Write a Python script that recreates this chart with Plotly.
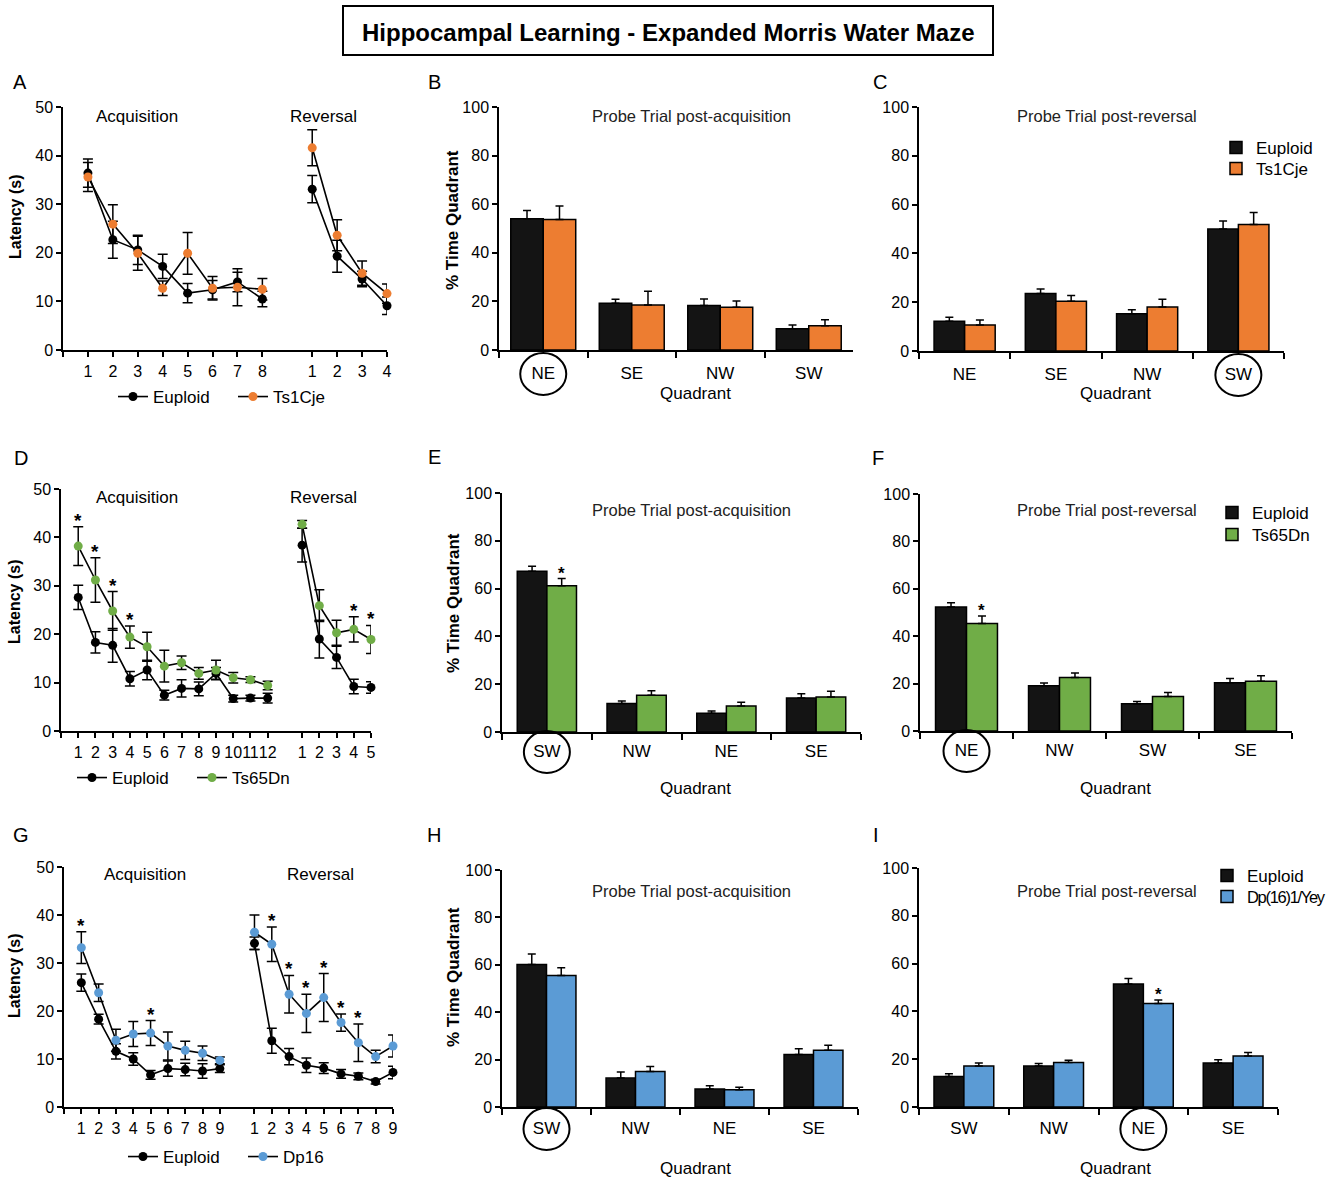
import plotly.graph_objects as go

W, H = 1335, 1180
FONT = "Arial, 'Liberation Sans', Helvetica, sans-serif"

EUP_BAR = "#141414"
ORANGE = "#ED7D31"
GREEN = "#70AD47"
BLUE = "#5B9BD5"

# ---------------- Ts1Cje (A-C) ----------------
ts1_acq_days = ["1", "2", "3", "4", "5", "6", "7", "8"]
ts1_rev_days = ["1", "2", "3", "4"]
ts1_eup_acq = [36.4, 22.7, 20.6, 17.2, 11.7, 12.4, 14.0, 10.5]
ts1_eup_acq_sem = [2.9, 3.8, 3.0, 2.5, 2.0, 1.9, 2.0, 1.6]
ts1_mut_acq = [35.6, 25.9, 19.9, 12.7, 19.9, 12.7, 12.9, 12.5]
ts1_mut_acq_sem = [3.0, 4.0, 3.5, 1.5, 4.3, 2.4, 3.8, 2.2]
ts1_eup_rev = [33.1, 19.3, 14.6, 9.1]
ts1_eup_rev_sem = [2.8, 3.3, 1.6, 1.8]
ts1_mut_rev = [41.6, 23.6, 15.8, 11.6]
ts1_mut_rev_sem = [3.7, 3.2, 2.5, 2.0]

ts1_probe_acq_quads = ["NE", "SE", "NW", "SW"]
ts1_probe_acq_eup = [54.0, 19.2, 18.3, 8.7]
ts1_probe_acq_eup_sem = [3.4, 1.7, 2.7, 1.6]
ts1_probe_acq_mut = [53.7, 18.5, 17.6, 10.0]
ts1_probe_acq_mut_sem = [5.6, 5.7, 2.6, 2.5]

ts1_probe_rev_quads = ["NE", "SE", "NW", "SW"]
ts1_probe_rev_eup = [12.2, 23.6, 15.3, 50.0]
ts1_probe_rev_eup_sem = [1.6, 1.8, 1.6, 3.3]
ts1_probe_rev_mut = [10.7, 20.4, 18.0, 51.8]
ts1_probe_rev_mut_sem = [2.0, 2.3, 3.2, 5.0]

# ---------------- Ts65Dn (D-F) ----------------
ts65_acq_days = ["1", "2", "3", "4", "5", "6", "7", "8", "9", "10", "11", "12"]
ts65_rev_days = ["1", "2", "3", "4", "5"]
ts65_eup_acq = [27.6, 18.3, 17.7, 10.8, 12.6, 7.4, 8.8, 8.7, 11.9, 6.7, 6.8, 6.8]
ts65_eup_acq_sem = [2.5, 2.2, 3.5, 1.5, 2.0, 1.0, 1.8, 1.4, 1.2, 0.7, 0.6, 1.0]
ts65_mut_acq = [38.2, 31.2, 24.8, 19.4, 17.4, 13.4, 14.1, 11.9, 12.6, 11.0, 10.6, 9.4]
ts65_mut_acq_sem = [4.0, 4.6, 4.0, 2.3, 3.0, 3.3, 1.4, 1.2, 2.0, 1.1, 0.6, 0.9]
ts65_eup_rev = [38.4, 19.0, 15.2, 9.2, 9.0]
ts65_eup_rev_sem = [3.5, 3.9, 2.3, 1.5, 1.2]
ts65_mut_rev = [42.7, 25.9, 20.3, 21.0, 18.9]
ts65_mut_rev_sem = [0.8, 3.3, 2.6, 2.6, 2.9]
ts65_sig_acq = [1, 2, 3, 4]
ts65_sig_rev = [4, 5]

ts65_probe_acq_quads = ["SW", "NW", "NE", "SE"]
ts65_probe_acq_eup = [67.3, 11.9, 7.8, 14.2]
ts65_probe_acq_eup_sem = [2.0, 1.1, 1.0, 1.8]
ts65_probe_acq_mut = [61.2, 15.4, 10.9, 14.6]
ts65_probe_acq_mut_sem = [3.0, 1.9, 1.5, 2.4]

ts65_probe_rev_quads = ["NE", "NW", "SW", "SE"]
ts65_probe_rev_eup = [52.3, 19.1, 11.5, 20.4]
ts65_probe_rev_eup_sem = [1.8, 1.2, 0.9, 1.8]
ts65_probe_rev_mut = [45.4, 22.6, 14.6, 21.0]
ts65_probe_rev_mut_sem = [3.1, 1.9, 1.6, 2.3]

# ---------------- Dp(16)1/Yey (G-I) ----------------
dp_acq_days = ["1", "2", "3", "4", "5", "6", "7", "8", "9"]
dp_rev_days = ["1", "2", "3", "4", "5", "6", "7", "8", "9"]
dp_eup_acq = [25.9, 18.3, 11.6, 10.0, 6.7, 8.0, 7.8, 7.5, 8.0]
dp_eup_acq_sem = [1.8, 1.0, 1.6, 1.3, 0.9, 1.6, 1.3, 1.5, 0.8]
dp_mut_acq = [33.2, 23.8, 13.9, 15.2, 15.4, 12.7, 11.8, 11.2, 9.7]
dp_mut_acq_sem = [3.3, 1.8, 2.3, 2.6, 2.6, 2.9, 1.9, 1.5, 0.7]
dp_eup_rev = [34.1, 13.8, 10.5, 8.7, 8.1, 6.9, 6.4, 5.3, 7.2]
dp_eup_rev_sem = [1.3, 2.6, 1.7, 1.5, 1.1, 0.9, 0.7, 0.5, 1.3]
dp_mut_rev = [36.4, 33.9, 23.5, 19.5, 22.8, 17.6, 13.4, 10.5, 12.7]
dp_mut_rev_sem = [3.6, 3.6, 3.9, 4.0, 5.0, 1.8, 3.9, 1.3, 2.3]
dp_sig_acq = [1, 5]
dp_sig_rev = [2, 3, 4, 5, 6, 7]

dp_probe_acq_quads = ["SW", "NW", "NE", "SE"]
dp_probe_acq_eup = [60.1, 12.2, 7.6, 22.1]
dp_probe_acq_eup_sem = [4.5, 2.6, 1.4, 2.5]
dp_probe_acq_mut = [55.5, 15.0, 7.3, 23.9]
dp_probe_acq_mut_sem = [3.3, 2.1, 1.0, 2.2]

dp_probe_rev_quads = ["SW", "NW", "NE", "SE"]
dp_probe_rev_eup = [12.8, 17.2, 51.5, 18.4]
dp_probe_rev_eup_sem = [1.1, 1.0, 2.3, 1.4]
dp_probe_rev_mut = [17.2, 18.6, 43.3, 21.3]
dp_probe_rev_mut_sem = [1.2, 1.0, 1.5, 1.5]


def fx(px):
    return px / W


def fy(py):
    return 1 - py / H


def axn(prefix, n):
    return prefix + ("" if n == 1 else str(n))


# subplot boxes in page pixels: left, right, top, bottom
BOXES = {
    1: (63, 387, 107, 350), 2: (499, 853, 107, 350), 3: (919, 1284, 107, 351),
    4: (61, 371, 489, 731), 5: (502, 861, 493, 732), 6: (920, 1292, 494, 731),
    7: (64, 393, 867, 1107), 8: (502, 858, 870, 1107), 9: (919, 1278, 868, 1107),
}

fig = go.Figure()
annotations = []
shapes = []

AXIS_COMMON = dict(showline=True, linecolor="black", linewidth=1.5, ticks="outside",
                   ticklen=5, tickwidth=1.5, tickcolor="black", showgrid=False,
                   zeroline=False, fixedrange=True, automargin=False)


def text(x, y, s, size=16, color="black", **kw):
    annotations.append(dict(x=fx(x), y=fy(y), xref="paper", yref="paper", text=s,
                            showarrow=False, xanchor=kw.pop("xanchor", "center"),
                            yanchor=kw.pop("yanchor", "middle"),
                            font=dict(size=size, color=color, family=FONT), **kw))


def setup_axes(n, x_extra, y_extra):
    l, r, t, b = BOXES[n]
    fig.layout[axn("xaxis", n)] = {**AXIS_COMMON, "domain": [fx(l), fx(r)],
                                   "anchor": axn("y", n), **x_extra}
    fig.layout[axn("yaxis", n)] = {**AXIS_COMMON, "domain": [fy(b), fy(t)],
                                   "anchor": axn("x", n), **y_extra}


def star(xa, ya, x, y, size):
    annotations.append(dict(x=x, y=y, xref=xa, yref=ya, text="<b>*</b>", showarrow=False,
                            yanchor="bottom", yshift=-6,
                            font=dict(size=size, color="black", family=FONT)))


def latency_panel(n, acq_days, rev_days, eup_acq, eup_acq_sem, eup_rev, eup_rev_sem,
                  mut_acq, mut_acq_sem, mut_rev, mut_rev_sem, mut_name, mut_color,
                  legend_id, sig_acq=(), sig_rev=()):
    xa, ya = axn("x", n), axn("y", n)
    acq_x = list(range(1, len(acq_days) + 1))
    rev_x = list(range(len(acq_days) + 2, len(acq_days) + 2 + len(rev_days)))
    series = [
        ("Euploid", "black", [(acq_x, eup_acq, eup_acq_sem), (rev_x, eup_rev, eup_rev_sem)]),
        (mut_name, mut_color, [(acq_x, mut_acq, mut_acq_sem), (rev_x, mut_rev, mut_rev_sem)]),
    ]
    for name, color, segments in series:
        for k, (xs, ys, es) in enumerate(segments):
            fig.add_trace(go.Scatter(
                x=xs, y=ys, mode="lines+markers", name=name,
                line=dict(color="black", width=1.6),
                marker=dict(color=color, size=9),
                error_y=dict(type="data", array=es, visible=True, color="black",
                             thickness=1.5, width=5),
                legend=legend_id, legendgroup=f"{n}-{name}", showlegend=(k == 0),
                cliponaxis=False, xaxis=xa, yaxis=ya, hoverinfo="skip"))
    # significance marks above the transgenic line
    for day in sig_acq:
        star(xa, ya, acq_x[day - 1], mut_acq[day - 1] + mut_acq_sem[day - 1], 19)
    for day in sig_rev:
        star(xa, ya, rev_x[day - 1], mut_rev[day - 1] + mut_rev_sem[day - 1], 19)
    setup_axes(n,
               dict(range=[0, rev_x[-1]], tickmode="array", tickangle=0,
                    tickvals=[0] + acq_x + rev_x, ticktext=[""] + acq_days + rev_days,
                    tickfont=dict(size=16, family=FONT, color="black"),
                    ticklabelstandoff=1),
               dict(range=[0, 50], tickmode="array", tickvals=[0, 10, 20, 30, 40, 50],
                    tickfont=dict(size=16, family=FONT, color="black")))


def probe_panel(n, quads, eup, eup_sem, mut, mut_sem, mut_name, mut_color, target,
                bar_w, label_gap, legend_ids=None, sig=()):
    xa, ya = axn("x", n), axn("y", n)
    ids = legend_ids or ("legend", "legend")
    for name, color, vals, errs, off, lid in [
            ("Euploid", EUP_BAR, eup, eup_sem, -bar_w, ids[0]),
            (mut_name, mut_color, mut, mut_sem, 0, ids[1])]:
        fig.add_trace(go.Bar(
            x=quads, y=vals, width=bar_w, offset=off, name=name,
            marker=dict(color=color, line=dict(color="black", width=1.5)),
            error_y=dict(type="data", symmetric=False, array=errs,
                         arrayminus=[0] * len(errs), color="black", thickness=1.5, width=4),
            legend=lid, showlegend=legend_ids is not None,
            xaxis=xa, yaxis=ya, hoverinfo="skip"))
    for q in sig:
        i = quads.index(q)
        star(xa, ya, i + bar_w / 2, mut[i] + mut_sem[i], 17)
    # circle round the target quadrant label
    ti = quads.index(target)
    shapes.append(dict(type="circle", xref=f"{xa} domain", yref=f"{ya} domain",
                       xsizemode="pixel", ysizemode="pixel",
                       xanchor=(ti + 0.5) / len(quads), yanchor=0,
                       x0=-23, x1=23, y0=-(label_gap + 21), y1=-(label_gap - 21),
                       line=dict(color="black", width=2)))
    setup_axes(n,
               dict(type="category", range=[-0.5, len(quads) - 0.5], tickson="boundaries",
                    ticklen=6, tickangle=0, tickfont=dict(size=17, family=FONT, color="black"),
                    ticklabelstandoff=label_gap - 17),
               dict(range=[0, 100], tickmode="array", tickvals=[0, 20, 40, 60, 80, 100],
                    tickfont=dict(size=16, family=FONT, color="black")))


# ---- row 1: Ts1Cje ----
latency_panel(1, ts1_acq_days, ts1_rev_days, ts1_eup_acq, ts1_eup_acq_sem, ts1_eup_rev,
              ts1_eup_rev_sem, ts1_mut_acq, ts1_mut_acq_sem, ts1_mut_rev, ts1_mut_rev_sem,
              "Ts1Cje", ORANGE, "legend")
probe_panel(2, ts1_probe_acq_quads, ts1_probe_acq_eup, ts1_probe_acq_eup_sem,
            ts1_probe_acq_mut, ts1_probe_acq_mut_sem, "Ts1Cje", ORANGE, "NE", 0.367, 24)
probe_panel(3, ts1_probe_rev_quads, ts1_probe_rev_eup, ts1_probe_rev_eup_sem,
            ts1_probe_rev_mut, ts1_probe_rev_mut_sem, "Ts1Cje", ORANGE, "SW", 0.335, 24,
            legend_ids=("legend4", "legend5"))

# ---- row 2: Ts65Dn ----
latency_panel(4, ts65_acq_days, ts65_rev_days, ts65_eup_acq, ts65_eup_acq_sem, ts65_eup_rev,
              ts65_eup_rev_sem, ts65_mut_acq, ts65_mut_acq_sem, ts65_mut_rev, ts65_mut_rev_sem,
              "Ts65Dn", GREEN, "legend2", ts65_sig_acq, ts65_sig_rev)
probe_panel(5, ts65_probe_acq_quads, ts65_probe_acq_eup, ts65_probe_acq_eup_sem,
            ts65_probe_acq_mut, ts65_probe_acq_mut_sem, "Ts65Dn", GREEN, "SW", 0.33, 20,
            sig=["SW"])
probe_panel(6, ts65_probe_rev_quads, ts65_probe_rev_eup, ts65_probe_rev_eup_sem,
            ts65_probe_rev_mut, ts65_probe_rev_mut_sem, "Ts65Dn", GREEN, "NE", 0.333, 20,
            legend_ids=("legend6", "legend7"), sig=["NE"])

# ---- row 3: Dp(16)1/Yey ----
latency_panel(7, dp_acq_days, dp_rev_days, dp_eup_acq, dp_eup_acq_sem, dp_eup_rev,
              dp_eup_rev_sem, dp_mut_acq, dp_mut_acq_sem, dp_mut_rev, dp_mut_rev_sem,
              "Dp16", BLUE, "legend3", dp_sig_acq, dp_sig_rev)
probe_panel(8, dp_probe_acq_quads, dp_probe_acq_eup, dp_probe_acq_eup_sem,
            dp_probe_acq_mut, dp_probe_acq_mut_sem, "Dp(16)1/Yey", BLUE, "SW", 0.331, 22)
probe_panel(9, dp_probe_rev_quads, dp_probe_rev_eup, dp_probe_rev_eup_sem,
            dp_probe_rev_mut, dp_probe_rev_mut_sem,
            '<span style="font-size:16.5px;letter-spacing:-1.3px">Dp(16)1/Yey</span>',
            BLUE, "NE", 0.333, 22, legend_ids=("legend8", "legend9"), sig=["NE"])

# ---- titles and labels ----
shapes.append(dict(type="rect", xref="paper", yref="paper", x0=fx(343), x1=fx(993),
                   y0=fy(55), y1=fy(6), line=dict(color="black", width=2)))
text(668, 32, "<b>Hippocampal Learning - Expanded Morris Water Maze</b>", size=24)

for letter, x, y in [("A", 20, 82), ("B", 434, 82), ("C", 880, 82),
                     ("D", 21, 458), ("E", 434, 457), ("F", 878, 458),
                     ("G", 21, 835), ("H", 434, 835), ("I", 876, 835)]:
    text(x, y, letter, size=20)

for y in (217, 602, 976):
    text(15, y, "<b>Latency (s)</b>", size=16, textangle=-90)
for y in (220, 603, 977):
    text(453, y, "<b>% Time Quadrant</b>", size=17, textangle=-90)

for (xa_, xr_, y) in [(137, 323, 116), (137, 323, 497), (145, 320, 874)]:
    text(xa_, y, "Acquisition", size=17)
    text(xr_, y, "Reversal", size=17)

for y in (116, 510, 891):
    text(691, y, "Probe Trial post-acquisition", size=16.5, color="#222")
    text(1107, y, "Probe Trial post-reversal", size=16.5, color="#222")

for y in (393, 788, 1168):
    text(695, y, "Quadrant", size=17)
    text(1115, y, "Quadrant", size=17)

LEG_COMMON = dict(font=dict(size=17, family=FONT, color="black"), bgcolor="rgba(0,0,0,0)",
                  itemclick=False, itemdoubleclick=False, traceorder="normal",
                  xanchor="left", yanchor="middle")
line_legend = dict(LEG_COMMON, orientation="h", entrywidth=75, entrywidthmode="pixels")
bar_legend = dict(LEG_COMMON, orientation="v")

fig.update_layout(
    width=W, height=H, autosize=False,
    margin=dict(l=0, r=0, t=0, b=0, pad=0, autoexpand=False),
    paper_bgcolor="white", plot_bgcolor="white",
    font=dict(family=FONT, color="black"),
    barmode="overlay",
    annotations=annotations, shapes=shapes,
    legend=dict(line_legend, x=fx(113), y=fy(397)),
    legend2=dict(line_legend, x=fx(72), y=fy(778)),
    legend3=dict(line_legend, x=fx(123), y=fy(1157)),
    legend4=dict(bar_legend, x=fx(1216), y=fy(148)),
    legend5=dict(bar_legend, x=fx(1216), y=fy(169)),
    legend6=dict(bar_legend, x=fx(1212), y=fy(513)),
    legend7=dict(bar_legend, x=fx(1212), y=fy(535)),
    legend8=dict(bar_legend, x=fx(1207), y=fy(876)),
    legend9=dict(bar_legend, x=fx(1207), y=fy(897)),
)

fig.write_html("out.html", config=dict(displayModeBar=False))
